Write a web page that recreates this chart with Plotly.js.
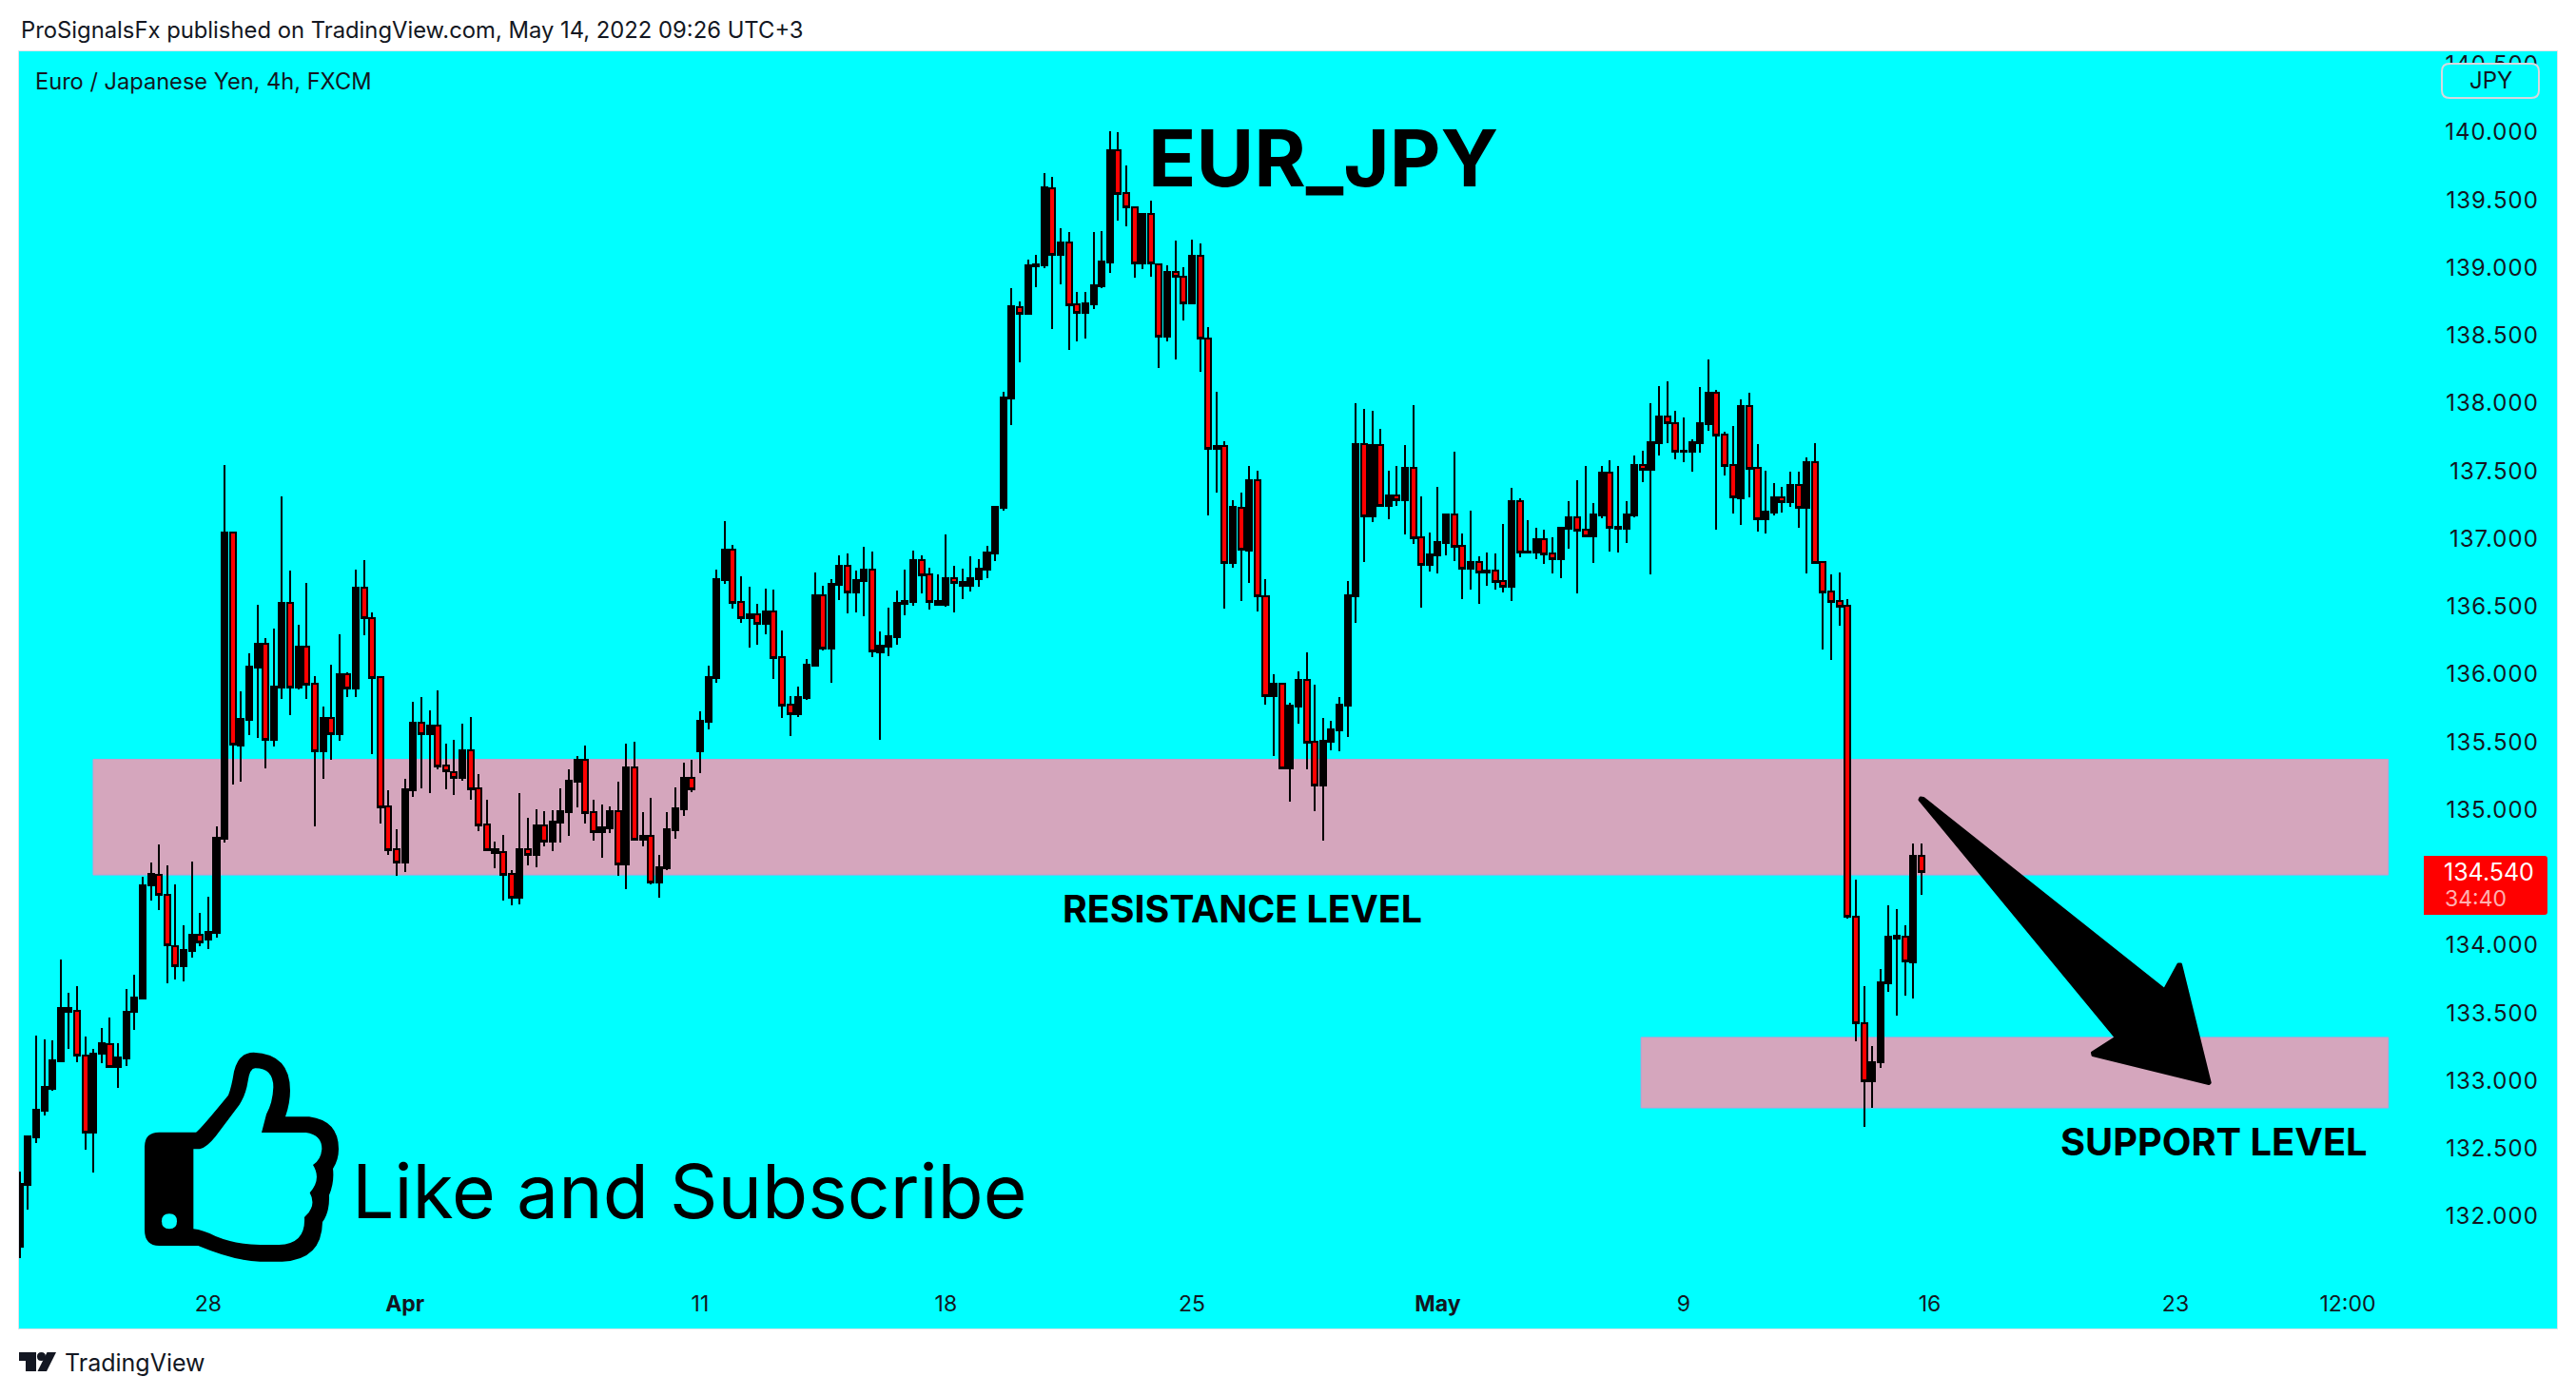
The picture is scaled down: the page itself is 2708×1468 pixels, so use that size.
<!DOCTYPE html>
<html><head><meta charset="utf-8">
<script src="https://cdn.plot.ly/plotly-3.0.1.min.js"></script>
<style>
html,body{margin:0;padding:0;background:#fff}
#chart{width:2708px;height:1468px}
.boxlayer path{shape-rendering:crispEdges}
.shapelayer path{stroke-linejoin:round}
.ytick text{letter-spacing:1px}
</style></head><body><div id="chart"></div>
<script>
const open = [131.774,132.23,132.58,132.782,132.943,133.144,133.507,133.515,133.185,132.621,
133.197,133.273,133.104,133.165,133.507,133.608,134.442,134.522,134.369,133.994,
133.849,133.958,134.075,134.043,134.094,134.786,137.045,135.474,135.665,136.051,
136.222,135.516,135.904,136.526,135.899,136.201,135.927,135.432,135.675,135.558,
135.998,135.895,136.636,136.412,135.977,135.022,134.706,134.611,135.144,135.64,
135.558,135.619,135.324,135.275,135.235,135.436,135.156,134.889,134.681,134.685,
134.524,134.351,134.706,134.667,134.882,134.765,134.905,134.982,135.207,135.366,
134.98,134.837,134.863,134.987,134.597,135.31,134.779,134.805,134.463,134.569,
134.849,135.004,135.233,135.432,135.649,135.972,136.695,136.917,136.531,136.414,
136.44,136.372,136.461,136.124,135.774,135.706,135.825,136.064,136.581,136.19,
136.66,136.798,136.604,136.688,136.77,136.162,136.204,136.274,136.52,136.534,
136.84,136.735,136.513,136.513,136.707,136.653,136.653,136.702,136.772,136.89,
137.229,138.035,138.712,138.662,139.013,139.018,139.589,139.096,139.183,138.727,
138.667,138.73,138.862,139.038,139.865,139.549,139.449,139.03,139.394,139.028,
138.492,138.965,138.93,138.737,139.085,138.474,137.665,137.681,136.823,137.23,
136.912,137.429,136.577,135.838,135.927,135.305,135.761,135.955,135.499,135.179,
135.502,135.586,135.768,136.575,137.696,137.165,137.689,137.242,137.317,137.284,
137.52,137.008,136.807,136.877,136.968,137.176,136.945,136.779,136.825,136.751,
136.762,136.685,136.645,137.275,136.896,136.898,136.994,136.889,136.849,137.073,
137.155,137.064,137.017,137.172,137.485,137.076,137.073,137.172,137.541,137.508,
137.705,137.899,137.85,137.639,137.642,137.705,137.846,138.075,137.766,137.542,
137.298,137.977,137.521,137.144,137.193,137.303,137.27,137.394,137.228,137.563,
136.826,136.608,136.538,136.504,134.208,133.422,132.994,133.137,133.718,134.052,
134.062,133.875,134.657];
const close = [132.238,132.588,132.786,132.955,133.148,133.535,133.535,133.185,132.621,133.201,
133.277,133.104,133.173,133.507,133.612,134.442,134.526,134.369,133.998,133.849,
133.966,134.075,134.019,134.099,134.793,137.045,135.478,135.67,136.056,136.224,
135.518,135.909,136.526,135.904,136.203,135.925,135.434,135.677,135.56,136.0,
135.897,136.638,136.412,135.974,135.02,134.704,134.613,135.151,135.642,135.56,
135.621,135.322,135.287,135.237,135.439,135.153,134.887,134.704,134.709,134.522,
134.353,134.709,134.669,134.884,134.767,134.912,134.99,135.214,135.368,134.975,
134.837,134.87,134.99,134.599,135.312,134.781,134.807,134.466,134.575,134.856,
135.011,135.235,135.153,135.656,135.979,136.702,136.92,136.529,136.417,136.443,
136.375,136.464,136.122,135.771,135.708,135.832,136.071,136.583,136.192,136.667,
136.8,136.606,136.695,136.772,136.167,136.211,136.281,136.527,136.541,136.842,
136.733,136.536,136.541,136.709,136.676,136.681,136.709,136.779,136.899,137.236,
138.043,138.715,138.662,139.018,139.025,139.592,139.098,139.186,138.725,138.67,
138.737,138.87,139.045,139.867,139.547,139.449,139.035,139.396,139.03,138.494,
138.968,138.93,138.74,139.088,138.474,137.665,137.685,136.823,137.232,136.917,
137.431,136.577,135.841,135.93,135.307,135.768,135.958,135.497,135.181,135.509,
135.593,135.775,136.582,137.698,137.167,137.691,137.244,137.319,137.284,137.522,
137.006,136.809,136.884,136.975,137.179,136.942,136.781,136.828,136.753,136.765,
136.683,136.648,137.277,136.9,136.907,136.996,136.886,136.851,137.08,137.158,
137.062,137.02,137.179,137.487,137.083,137.087,137.179,137.543,137.511,137.712,
137.901,137.85,137.644,137.651,137.712,137.853,138.077,137.764,137.539,137.303,
137.979,137.518,137.146,137.2,137.305,137.273,137.397,137.231,137.565,136.824,
136.606,136.536,136.501,134.208,133.422,132.994,133.14,133.729,134.065,134.072,
133.878,134.66,134.54];
const high = [132.33,132.6,133.334,133.305,133.297,133.894,133.648,133.696,133.326,133.233,
133.386,133.467,133.277,133.68,133.781,134.506,134.611,134.744,134.591,134.45,
134.148,134.619,134.236,134.357,134.877,137.544,137.05,135.874,136.154,136.512,
136.267,136.337,137.312,136.765,136.365,136.674,135.986,135.761,136.07,136.295,
136.014,136.772,136.842,136.456,135.98,135.144,134.856,135.228,135.796,135.832,
135.733,135.881,135.488,135.516,135.635,135.684,135.263,135.074,134.765,134.814,
134.554,135.123,134.94,135.004,134.99,134.997,135.158,135.298,135.396,135.474,
135.074,135.039,135.025,135.207,135.488,135.502,134.982,135.088,134.667,134.982,
135.165,135.347,135.368,135.726,136.063,136.772,137.13,136.955,136.723,136.646,
136.52,136.632,136.625,136.323,135.839,135.909,136.113,136.751,136.653,136.702,
136.878,136.892,136.765,136.941,136.906,136.316,136.492,136.618,136.772,136.913,
136.878,136.786,136.737,137.032,136.8,136.779,136.871,136.85,136.948,137.244,
138.083,138.85,138.75,139.063,139.096,139.697,139.669,139.291,139.263,138.82,
138.82,139.263,139.271,140.008,140.0,139.755,139.452,139.404,139.494,139.03,
139.018,139.201,139.003,139.206,139.178,138.562,138.083,137.719,137.284,137.34,
137.536,137.501,136.701,136.0,135.937,135.789,136.021,136.161,135.923,135.677,
135.656,135.831,136.687,138.0,137.957,137.943,137.81,137.501,137.536,137.691,
137.986,137.312,137.045,137.382,137.186,137.642,137.038,137.207,136.87,136.898,
136.891,137.108,137.375,137.298,137.137,137.08,137.066,137.01,137.08,137.277,
137.431,137.536,137.263,137.536,137.579,137.536,137.277,137.614,137.649,138.0,
138.126,138.161,137.943,137.894,137.733,138.119,138.323,138.098,137.79,137.832,
138.028,138.077,137.698,137.502,137.411,137.383,137.495,137.495,137.6,137.705,
136.83,136.737,136.751,136.555,134.484,133.698,133.256,133.824,134.297,134.266,
134.147,134.752,134.752];
const low = [131.694,132.048,132.54,132.741,132.927,133.14,133.233,133.136,132.492,132.322,
133.128,133.096,132.947,133.108,133.374,133.6,134.329,134.26,133.72,133.749,
133.732,133.91,133.99,133.97,134.056,134.76,135.186,135.207,135.553,135.53,
135.305,135.467,135.818,135.698,135.888,135.818,134.877,135.228,135.368,135.509,
135.832,135.832,136.288,135.411,134.898,134.667,134.512,134.54,135.095,135.158,
135.123,135.298,135.151,135.109,135.214,135.074,134.842,134.702,134.569,134.33,
134.295,134.302,134.59,134.575,134.73,134.695,134.758,134.807,135.018,134.898,
134.772,134.646,134.828,134.512,134.414,134.78,134.73,134.449,134.351,134.555,
134.786,134.954,135.13,135.27,135.593,135.937,136.667,136.485,136.379,136.197,
136.218,136.295,135.965,135.678,135.544,135.685,135.811,136.057,136.176,135.937,
136.548,136.45,136.457,136.428,136.127,135.516,136.134,136.218,136.436,136.506,
136.597,136.478,136.506,136.499,136.457,136.555,136.611,136.646,136.709,136.835,
137.206,137.838,138.301,138.66,138.855,138.995,138.547,138.877,138.394,138.457,
138.477,138.695,138.852,138.96,139.346,139.306,138.925,138.99,138.933,138.258,
138.457,138.324,138.609,138.73,138.231,137.171,137.341,136.484,136.786,136.54,
136.673,136.463,135.775,135.396,135.298,135.06,135.635,135.298,134.989,134.772,
135.438,135.431,135.537,136.379,136.828,137.122,137.235,137.144,137.242,137.031,
136.961,136.491,136.758,136.744,136.877,136.835,136.554,136.624,136.519,136.652,
136.624,136.603,136.54,136.863,136.891,136.849,136.814,136.744,136.708,136.926,
136.596,137.01,136.821,137.151,136.905,136.898,136.968,137.158,137.417,136.737,
137.614,137.705,137.586,137.565,137.494,137.635,137.797,137.067,137.467,137.186,
137.102,137.305,137.053,137.039,137.172,137.193,137.235,137.081,136.744,136.82,
136.183,136.106,136.358,134.2,133.293,132.657,132.797,133.096,133.657,133.48,
133.63,133.606,134.371];

const dateTickIndex = [23,47,83,113,143,173,203,233,263,284];
const dateTickLabels = ['28','<b>Apr</b>','11','18','25','<b>May</b>','9','16','23','12:00'];
const priceTicks = [132,132.5,133,133.5,134,135,135.5,136,136.5,137,137.5,138,138.5,139,139.5,140,140.5];
const resistanceZone = [135.372,134.519];
const supportZone = [133.32,132.8];
const lastPriceLabel = '134.540';
const countdownLabel = '34:40';

const W=2708,H=1468,L=20,T=54,R=2688,B=1397;
const fx=p=>(p-L)/(R-L), fy=p=>1-(p-T)/(B-T);
const pt=(x,y)=>fx(x).toFixed(5)+','+fy(y).toFixed(5);
const FONT='Inter, "Liberation Sans", sans-serif';
const INK='#131722';
function ann(text,x,y,size,o={}){return Object.assign({text,x:fx(x),y:fy(y),xref:'paper',yref:'paper',showarrow:false,
  xanchor:'left',yanchor:'middle',font:{family:FONT,size,color:INK}},o);}
const blk=size=>({font:{family:FONT,size,color:'#000000'}});
// thumb-up icon, drawn from zoomed outline
const tz=(x,y)=>pt(130+x/3,1080+y/3);
const thumbOuter='M'+tz(66,378)+' Q'+tz(66,332)+' '+tz(112,332)+' L'+tz(228,332)+' Q'+tz(240,325)+' '+tz(330,215)
 +' Q'+tz(340,190)+' '+tz(348,140)+' Q'+tz(362,80)+' '+tz(410,80)+' Q'+tz(525,85)+' '+tz(525,200)+' Q'+tz(525,240)+' '+tz(510,283)
 +' L'+tz(585,283)+' Q'+tz(678,295)+' '+tz(678,385)+' Q'+tz(678,420)+' '+tz(660,447)+' Q'+tz(665,490)+' '+tz(648,530)
 +' Q'+tz(650,585)+' '+tz(627,615)+' Q'+tz(625,735)+' '+tz(500,740)+' L'+tz(430,740)+' Q'+tz(350,738)+' '+tz(235,690)
 +' L'+tz(112,690)+' Q'+tz(66,690)+' '+tz(66,640)+' Z';
const thumbInner='M'+tz(220,385)+' L'+tz(240,385)+' Q'+tz(262,380)+' '+tz(290,345)+' L'+tz(365,245)+' Q'+tz(385,215)+' '+tz(392,170)
 +' Q'+tz(398,130)+' '+tz(415,130)+' Q'+tz(472,130)+' '+tz(472,190)+' Q'+tz(470,240)+' '+tz(450,275)+' L'+tz(435,333)
 +' L'+tz(575,333)+' Q'+tz(625,340)+' '+tz(625,385)+' Q'+tz(622,420)+' '+tz(597,435)+' Q'+tz(625,480)+' '+tz(587,523)
 +' Q'+tz(610,565)+' '+tz(570,600)+' Q'+tz(575,685)+' '+tz(490,687)+' L'+tz(430,687)+' Q'+tz(350,685)+' '+tz(290,660)
 +' Q'+tz(250,640)+' '+tz(220,637)+' Z';
const thumbHole='M'+tz(120,613)+' Q'+tz(120,589)+' '+tz(144,589)+' Q'+tz(168,589)+' '+tz(168,613)+' Q'+tz(168,637)+' '+tz(144,637)+' Q'+tz(120,637)+' '+tz(120,613)+' Z';
const arrowPath='M'+pt(2019,839)+' L'+pt(2022,839.5)+' L'+pt(2275.4,1040.7)+' L'+pt(2290,1014)+' L'+pt(2292.5,1014)+' L'+pt(2323.2,1138.5)+' L'+pt(2322,1139.5)+' L'+pt(2200,1109.5)+' L'+pt(2199.5,1107)+' L'+pt(2224.4,1091)+' L'+pt(2018,841)+' Z';
const jpyBox='M'+pt(2575,67)+' L'+pt(2661,67)+' Q'+pt(2669,67)+' '+pt(2669,75)+' L'+pt(2669,95)+' Q'+pt(2669,103)+' '+pt(2661,103)+' L'+pt(2575,103)+' Q'+pt(2567,103)+' '+pt(2567,95)+' L'+pt(2567,75)+' Q'+pt(2567,67)+' '+pt(2575,67)+' Z';
const priceBox='M'+pt(2548,900)+' L'+pt(2675,900)+' Q'+pt(2678,900)+' '+pt(2678,903)+' L'+pt(2678,959)+' Q'+pt(2678,962)+' '+pt(2675,962)+' L'+pt(2548,962)+' Z';
const logoT='M'+pt(20,1422)+' L'+pt(38,1422)+' L'+pt(38,1442)+' L'+pt(27,1442)+' L'+pt(27,1431)+' L'+pt(20,1431)+' Z';
const logoDot='M'+pt(39,1426.5)+' Q'+pt(39,1422)+' '+pt(43.5,1422)+' Q'+pt(48,1422)+' '+pt(48,1426.5)+' Q'+pt(48,1431)+' '+pt(43.5,1431)+' Q'+pt(39,1431)+' '+pt(39,1426.5)+' Z';
const logoSlash='M'+pt(49.5,1422)+' L'+pt(59,1422)+' L'+pt(49,1442)+' L'+pt(39.5,1442)+' Z';
const pathShape=(path,fill,line)=>({type:'path',xref:'paper',yref:'paper',path,fillcolor:fill,layer:'above',
  line:line||{width:0}});
const zoneLine={color:'#c79ad0',width:1};
const zone=(x0,x1,z)=>({type:'rect',xref:'x',yref:'y',x0,x1,y0:z[0],y1:z[1],fillcolor:'#D5A6BD',line:zoneLine,layer:'below'});

const trace={type:'candlestick',x:open.map((_,i)=>i),open,high,low,close,hoverinfo:'skip',whiskerwidth:0,
  increasing:{line:{color:'#000000',width:2},fillcolor:'#000000'},
  decreasing:{line:{color:'#000000',width:2},fillcolor:'#ff0000'}};

const layout={width:W,height:H,margin:{l:L,r:W-R,t:T,b:H-B,pad:0},paper_bgcolor:'#ffffff',plot_bgcolor:'#00FFFF',
  showlegend:false,font:{family:FONT,color:INK},
  xaxis:{type:'linear',range:[(L-20.7)/8.617,(R-20.7)/8.617],rangeslider:{visible:false},tickmode:'array',tickvals:dateTickIndex,ticktext:dateTickLabels,
    ticks:'',showgrid:false,zeroline:false,showline:true,linecolor:'#dfe3ea',linewidth:1,mirror:true,ticklabelposition:'inside',ticklabelstandoff:15,
    tickfont:{family:FONT,size:23,color:INK},fixedrange:true},
  yaxis:{side:'right',range:[140-(B-139)/142.5,140-(T-139)/142.5],tickmode:'array',tickvals:priceTicks,tickformat:'.3f',
    ticks:'',showgrid:false,zeroline:false,showline:true,linecolor:'#dfe3ea',linewidth:1,mirror:true,ticklabelposition:'inside',ticklabelstandoff:21,ticklabeloverflow:'allow',
    tickfont:{family:FONT,size:24,color:INK},fixedrange:true},
  boxmode:'overlay',boxgap:0.3,boxgroupgap:0,
  shapes:[zone(8.97,288.96,resistanceZone),zone(197.8,288.96,supportZone),
    pathShape(arrowPath,'#000000',{color:'#000000',width:3}),
    pathShape(thumbOuter,'#000000'),pathShape(thumbInner,'#00FFFF'),pathShape(thumbHole,'#00FFFF'),
    pathShape(jpyBox,'#00FFFF',{color:'#d6d8de',width:2}),
    pathShape(priceBox,'#ff0000'),
    pathShape(logoT,INK),pathShape(logoDot,INK),pathShape(logoSlash,INK)],
  annotations:[
    ann('ProSignalsFx published on TradingView.com, May 14, 2022 09:26 UTC+3',20,31,23.8),
    ann('Euro / Japanese Yen, 4h, FXCM',35,86,23.6),
    ann('<b>EUR_JPY</b>',1205,166,83,blk(83)),
    ann('<b>RESISTANCE LEVEL</b>',1115,955,39.3,blk(39.3)),
    ann('<b>SUPPORT LEVEL</b>',2164,1200,39.8,blk(39.8)),
    ann('Like and Subscribe',368,1252,78.7,blk(78.7)),
    ann('JPY',2618,85,24,{xanchor:'center'}),
    ann(lastPriceLabel,2567,917,25,{font:{family:FONT,size:25,color:'#ffffff'}}),
    ann(countdownLabel,2568,945,23,{font:{family:FONT,size:23,color:'rgba(255,255,255,0.7)'}}),
    ann('TradingView',66,1433,25)
  ]};
Plotly.newPlot('chart',[trace],layout,{displayModeBar:false,staticPlot:true});
</script></body></html>
